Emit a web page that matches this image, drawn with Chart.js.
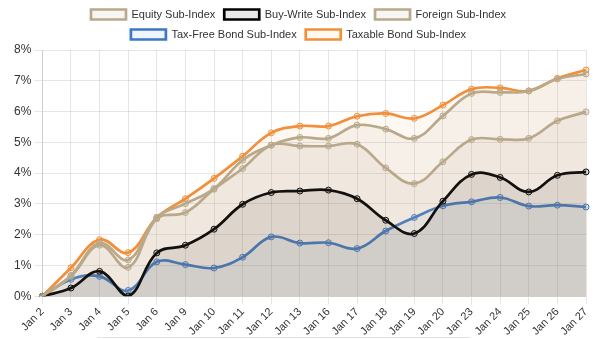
<!DOCTYPE html>
<html>
<head>
<meta charset="utf-8">
<script src="https://cdn.jsdelivr.net/npm/chart.js@4"></script>
<style>
    html, body { margin: 0; padding: 0; background: #fff; }
    .wrap { position: relative; width: 600px; height: 339px; overflow: hidden; }
    .scroll-line { position: absolute; left: 97px; top: 337px; width: 373px; height: 0; border-top: 1px solid #e2e2e2; }
</style>
</head>
<body>
<div class="wrap">
    <canvas id="indexChart" width="600" height="339"></canvas>
    <div class="scroll-line"></div>
</div>
<script>
const days = ['Jan 2', 'Jan 3', 'Jan 4', 'Jan 5', 'Jan 6', 'Jan 9', 'Jan 10', 'Jan 11', 'Jan 12', 'Jan 13',
              'Jan 16', 'Jan 17', 'Jan 18', 'Jan 19', 'Jan 20', 'Jan 23', 'Jan 24', 'Jan 25', 'Jan 26', 'Jan 27'];

const equity    = [0, 0.68, 1.73, 1.18, 2.56, 3.01, 3.50, 4.42, 4.91, 5.16, 5.13, 5.56, 5.43, 5.13, 5.86, 6.59, 6.62, 6.67, 7.06, 7.22];
const buyWrite  = [0, 0.27, 0.81, 0.01, 1.41, 1.66, 2.18, 2.99, 3.37, 3.42, 3.45, 3.17, 2.47, 2.04, 3.09, 3.96, 3.86, 3.39, 3.93, 4.04];
const foreign   = [0, 0.65, 1.66, 0.94, 2.52, 2.72, 3.48, 4.15, 4.91, 4.88, 4.88, 4.94, 4.17, 3.66, 4.37, 5.09, 5.10, 5.13, 5.70, 5.99];
const taxFree   = [0, 0.55, 0.65, 0.19, 1.12, 1.03, 0.92, 1.27, 1.93, 1.73, 1.74, 1.55, 2.12, 2.56, 2.94, 3.07, 3.21, 2.93, 2.96, 2.90];
const taxable   = [0, 0.93, 1.84, 1.42, 2.56, 3.17, 3.83, 4.55, 5.31, 5.53, 5.53, 5.85, 5.94, 5.78, 6.21, 6.73, 6.77, 6.67, 7.08, 7.35];

const yTicks = [0, 1, 2, 3, 4, 5, 6, 7, 8];

const FONT = "'Liberation Sans', Arial, sans-serif";

function series(label, data, line, fill, pointFill) {
    return {
        label: label,
        data: data,
        borderColor: line,
        backgroundColor: fill,
        borderWidth: 2.7,
        pointRadius: 3,
        pointBorderWidth: 1,
        pointBorderColor: line,
        pointBackgroundColor: pointFill,
        tension: 0.4,
        fill: 'origin'
    };
}

new Chart(document.getElementById('indexChart'), {
    type: 'line',
    data: {
        labels: days,
        datasets: [
            series('Equity Sub-Index',       equity,   '#b9a98b', 'rgba(185,169,139,0.10)', 'rgba(185,169,139,0.25)'),
            series('Buy-Write Sub-Index',    buyWrite, '#000000', 'rgba(0,0,0,0.09)',       'rgba(0,0,0,0.12)'),
            series('Foreign Sub-Index',      foreign,  '#b9a98b', 'rgba(185,169,139,0.10)', 'rgba(185,169,139,0.25)'),
            series('Tax-Free Bond Sub-Index', taxFree, '#3b78c6', 'rgba(59,120,198,0.08)',  'rgba(59,120,198,0.2)'),
            series('Taxable Bond Sub-Index', taxable,  '#f28f3b', 'rgba(242,143,59,0.06)',  'rgba(242,143,59,0.2)')
        ]
    },
    options: {
        responsive: false,
        animation: false,
        layout: { padding: { left: 11, right: 14, top: 0, bottom: 0 } },
        plugins: {
            legend: {
                position: 'top',
                labels: {
                    boxWidth: 35,
                    boxHeight: 10,
                    padding: 9,
                    color: '#333',
                    font: { family: FONT, size: 11 }
                }
            },
            tooltip: { enabled: false }
        },
        scales: {
            x: {
                grid: { color: 'rgba(0,0,0,0.1)' },
                ticks: {
                    color: '#333',
                    padding: 1,
                    font: { family: FONT, size: 11 },
                    maxRotation: 45,
                    minRotation: 45,
                    autoSkip: false
                }
            },
            y: {
                min: 0,
                max: 8,
                afterBuildTicks: function (axis) {
                    axis.ticks = yTicks.map(function (v) { return { value: v }; });
                },
                grid: { color: 'rgba(0,0,0,0.1)' },
                ticks: {
                    color: '#333',
                    font: { family: FONT, size: 12 },
                    callback: function (v) { return v + '%'; }
                }
            }
        }
    }
});
</script>
</body>
</html>
